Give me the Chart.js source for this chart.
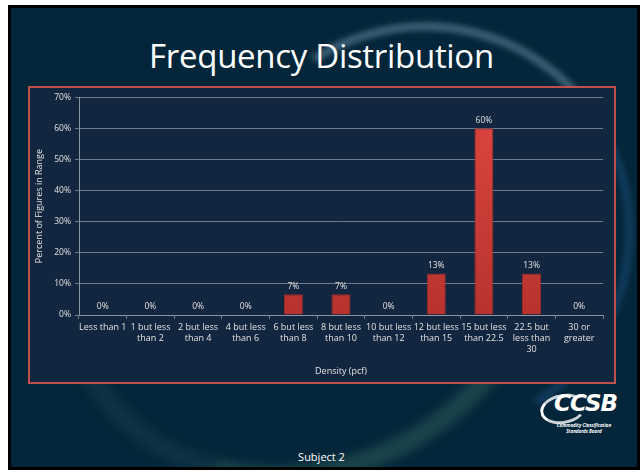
<!DOCTYPE html>
<html>
<head>
<meta charset="utf-8">
<script src="https://cdn.jsdelivr.net/npm/chart.js@4.4.1/dist/chart.umd.min.js"></script>
<style>
  html, body { margin: 0; padding: 0; background: #ffffff; }
  body { width: 643px; height: 473px; position: relative; overflow: hidden; font-family: "Open Sans", "Noto Sans", sans-serif; }
  #slide { position: absolute; left: 8px; top: 5px; width: 632px; height: 465px; background: #000; }
  #inner { position: absolute; left: 3px; top: 3px; width: 626px; height: 459px; background: #04263a; overflow: hidden; }
  .arc1 { position: absolute; left: 205px; top: 14px; width: 400px; height: 400px; border-radius: 50%;
          border: 9px solid transparent; border-top-color: rgba(140,175,200,0.38); border-right-color: rgba(30,80,130,0.45);
          transform: rotate(12deg); filter: blur(2.5px); }
  .arc2 { position: absolute; left: 40px; top: 30px; width: 470px; height: 400px; border-radius: 50%;
          border: 20px solid transparent; border-bottom-color: rgba(55,105,95,0.42); border-left-color: rgba(45,95,85,0.2);
          transform: rotate(-28deg); filter: blur(4px); }
  #title { position: absolute; left: 0; width: 643px; top: 33px; text-align: center; color: #ffffff; font-size: 33px; font-family: "Open Sans", sans-serif; letter-spacing: -0.3px; line-height: 46px; }
  #box { position: absolute; left: 28px; top: 86px; width: 584px; height: 294px; border: 2px solid #c0504d; background: #12263f; }
  #subject { position: absolute; left: 0; width: 643px; top: 449px; text-align: center; color: #ffffff; font-size: 11px; }
  #logo { position: absolute; left: 528px; top: 388px; width: 90px; height: 60px; color: #fff; }
  #logo .big { position: absolute; left: 26px; top: 2px; font-size: 23px; font-weight: bold; font-style: italic; font-family: "DejaVu Sans", sans-serif; letter-spacing: -1px; }
  #logo .sm { position: absolute; left: 24px; width: 64px; text-align: center; font-size: 4.5px; line-height: 5px; font-style: italic; font-weight: bold; }
  #logo .sw { position: absolute; left: 12px; top: 6px; width: 40px; height: 24px; border-radius: 50%; border: 3px solid transparent; border-left-color: #fff; border-top-color: rgba(255,255,255,0.8); border-bottom-color: rgba(255,255,255,0.8); transform: rotate(-10deg); }
</style>
</head>
<body>
<div id="slide"><div id="inner"><div class="arc1"></div><div class="arc2"></div></div></div>
<div id="title">Frequency Distribution</div>
<div id="box"><canvas id="c" width="584" height="294"></canvas></div>
<div id="logo"><div class="sw"></div><div class="big">CCSB</div><div class="sm" style="top:35px">Commodity Classification</div><div class="sm" style="top:41px">Standards Board</div></div>
<div id="subject">Subject 2</div>
<script>
const categories = [
  ["Less than 1"],
  ["1 but less", "than 2"],
  ["2 but less", "than 4"],
  ["4 but less", "than 6"],
  ["6 but less", "than 8"],
  ["8 but less", "than 10"],
  ["10 but less", "than 12"],
  ["12 but less", "than 15"],
  ["15 but less", "than 22.5"],
  ["22.5 but", "less than", "30"],
  ["30 or", "greater"]
];
const percentValues = [0, 0, 0, 0, 6.67, 6.67, 0, 13.33, 60, 13.33, 0];
const valueLabels = ["0%", "0%", "0%", "0%", "7%", "7%", "0%", "13%", "60%", "13%", "0%"];
const yTickMax = 70;
const yTickStep = 10;

const FONT = "Open Sans";
const TXT = "#e2e2e2";
const GRID = "#6e7b8a";

const labelPlugin = {
  id: "valueLabels",
  afterDatasetsDraw(chart) {
    const ctx = chart.ctx;
    const meta = chart.getDatasetMeta(0);
    ctx.save();
    ctx.fillStyle = TXT;
    ctx.font = "8.5px '" + FONT + "'";
    ctx.textAlign = "center";
    ctx.textBaseline = "middle";
    meta.data.forEach((el, i) => {
      ctx.fillText(valueLabels[i], el.x, el.y - 8);
    });
    ctx.restore();
  }
};

new Chart(document.getElementById("c"), {
  type: "bar",
  data: {
    labels: categories,
    datasets: [{
      data: percentValues,
      backgroundColor: (context) => {
        const area = context.chart.chartArea;
        if (!area) return "#d23c36";
        const g = context.chart.ctx.createLinearGradient(0, area.top, 0, area.bottom);
        g.addColorStop(0, "#de4640");
        g.addColorStop(1, "#b8332e");
        return g;
      },
      borderColor: "#9c2a26",
      borderWidth: 1,
      borderSkipped: "bottom",
      categoryPercentage: 1.0,
      barPercentage: 0.4
    }]
  },
  options: {
    responsive: false,
    animation: false,
    events: [],
    layout: { padding: { top: 6, right: 11, left: 0, bottom: 0 } },
    plugins: { legend: { display: false }, tooltip: { enabled: false } },
    scales: {
      x: {
        afterFit(s) { s.height = 67; },
        grid: { display: true, drawOnChartArea: false, drawTicks: true, tickLength: 4, offset: true, color: GRID },
        border: { display: true, color: "#8a95a3", width: 1 },
        ticks: { color: TXT, font: { family: FONT, size: 9, lineHeight: 1.2 }, padding: 3, maxRotation: 0, autoSkip: false },
        title: { display: true, text: "Density (pcf)", color: TXT, font: { family: FONT, size: 9 }, padding: { top: 0, bottom: 5 } }
      },
      y: {
        min: 0,
        max: yTickMax,
        afterFit(s) { s.width = 49; },
        grid: { color: GRID, lineWidth: 1, drawTicks: true, tickLength: 4 },
        border: { display: true, color: "#8a95a3", width: 1 },
        ticks: { stepSize: yTickStep, color: TXT, font: { family: FONT, size: 8.5 }, padding: 4, callback: (v) => v + "%" },
        title: { display: true, text: "Percent of Figures in Range", color: TXT, font: { family: FONT, size: 9 }, padding: { top: 4, bottom: 0 } }
      }
    }
  },
  plugins: [labelPlugin]
});
</script>
</body>
</html>
